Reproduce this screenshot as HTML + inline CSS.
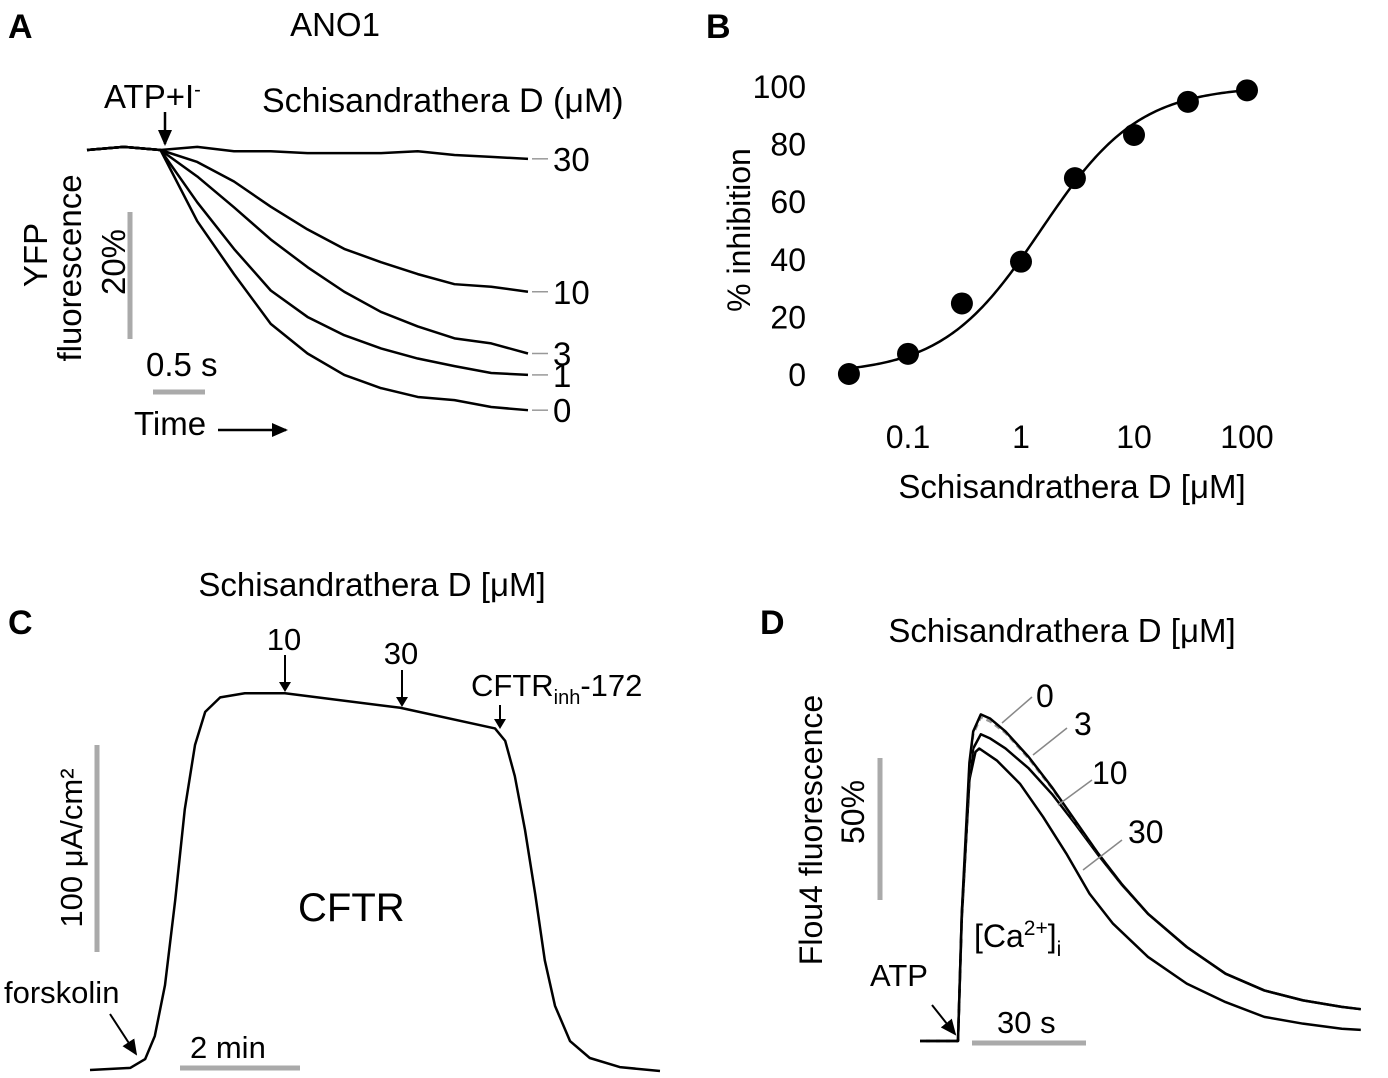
<!DOCTYPE html>
<html><head><meta charset="utf-8"><style>
body{margin:0;background:#fff}
svg{display:block;font-family:"Liberation Sans",Arial,sans-serif}
text{fill:#000}
</style></head><body>
<svg id="fig" width="1388" height="1078" viewBox="0 0 1388 1078">
<defs><marker id="ah" markerWidth="10" markerHeight="12" refX="8" refY="6" orient="auto" markerUnits="userSpaceOnUse"><path d="M0,0 L10,6 L0,12 z" fill="#000"/></marker>
<marker id="ah2" markerWidth="16" markerHeight="14" refX="14" refY="7" orient="auto" markerUnits="userSpaceOnUse"><path d="M0,0 L16,7 L0,14 z" fill="#000"/></marker></defs>

<!-- Panel A -->
<g>
<text x="8" y="38" font-size="34" font-weight="bold">A</text>
<text x="335" y="36" font-size="33" text-anchor="middle">ANO1</text>
<text x="104" y="108" font-size="33">ATP+I<tspan dy="-12" font-size="20">-</tspan></text>
<line x1="165" y1="112" x2="165" y2="144" stroke="#000" stroke-width="2.5" marker-end="url(#ah2)"/>
<text x="262" y="112" font-size="34">Schisandrathera D (μM)</text>
<text transform="translate(47,255) rotate(-90)" font-size="33" text-anchor="middle">YFP</text>
<text transform="translate(81,268) rotate(-90)" font-size="33" text-anchor="middle">fluorescence</text>
<text transform="translate(125,262) rotate(-90)" font-size="33" text-anchor="middle">20%</text>
<line x1="130" y1="212" x2="130" y2="339" stroke="#aaa" stroke-width="5"/>
<text x="146" y="376" font-size="33">0.5 s</text>
<line x1="153" y1="392" x2="205" y2="392" stroke="#aaa" stroke-width="5"/>
<text x="134" y="435" font-size="33">Time</text>
<line x1="218" y1="430" x2="286" y2="430" stroke="#000" stroke-width="2.5" marker-end="url(#ah2)"/>
<g id="gA"></g>
</g>

<!-- Panel B -->
<g>
<text x="706" y="38" font-size="34" font-weight="bold">B</text>
<text transform="translate(750,230) rotate(-90)" font-size="32" text-anchor="middle">% inhibition</text>
<text x="1072" y="498" font-size="33" text-anchor="middle">Schisandrathera D [μM]</text>
<g id="gB"></g>
</g>

<!-- Panel C -->
<g>
<text x="8" y="634" font-size="34" font-weight="bold">C</text>
<text x="372" y="596" font-size="33" text-anchor="middle">Schisandrathera D [μM]</text>
<text x="284" y="650" font-size="31" text-anchor="middle">10</text>
<line x1="285" y1="655" x2="285" y2="690" stroke="#000" stroke-width="2" marker-end="url(#ah)"/>
<text x="401" y="664" font-size="31" text-anchor="middle">30</text>
<line x1="402" y1="670" x2="402" y2="705" stroke="#000" stroke-width="2" marker-end="url(#ah)"/>
<text x="471" y="696" font-size="31">CFTR<tspan font-size="20" dy="8">inh</tspan><tspan dy="-8">-172</tspan></text>
<line x1="500" y1="705" x2="500" y2="727" stroke="#000" stroke-width="2" marker-end="url(#ah)"/>
<line x1="97" y1="745" x2="97" y2="952" stroke="#aaa" stroke-width="5"/>
<text transform="translate(82,848) rotate(-90)" font-size="31" text-anchor="middle">100 μA/cm²</text>
<text x="298" y="921" font-size="40">CFTR</text>
<text x="4" y="1003" font-size="31">forskolin</text>
<line x1="110" y1="1014" x2="136" y2="1054" stroke="#000" stroke-width="2" marker-end="url(#ah2)"/>
<text x="190" y="1058" font-size="31">2 min</text>
<line x1="180" y1="1068" x2="300" y2="1068" stroke="#aaa" stroke-width="5"/>
<g id="gC"></g>
</g>

<!-- Panel D -->
<g>
<text x="760" y="634" font-size="34" font-weight="bold">D</text>
<text x="1062" y="642" font-size="33" text-anchor="middle">Schisandrathera D [μM]</text>
<text transform="translate(822,830) rotate(-90)" font-size="32" text-anchor="middle">Flou4 fluorescence</text>
<text transform="translate(864,812) rotate(-90)" font-size="32" text-anchor="middle">50%</text>
<line x1="880" y1="758" x2="880" y2="900" stroke="#aaa" stroke-width="5"/>
<text x="974" y="947" font-size="32">[Ca<tspan dy="-12" font-size="21">2+</tspan><tspan dy="12">]</tspan><tspan dy="9" font-size="21">i</tspan></text>
<text x="870" y="986" font-size="31">ATP</text>
<line x1="932" y1="1005" x2="955" y2="1034" stroke="#000" stroke-width="2" marker-end="url(#ah2)"/>
<text x="997" y="1033" font-size="31">30 s</text>
<line x1="972" y1="1043" x2="1086" y2="1043" stroke="#aaa" stroke-width="5"/>
<g id="gD"></g>
</g>
</svg>
<script>
// ---------- Panel A data ----------
const aTime = [0,1,2,3,4,5,6,7,8,9,10,11,12];
const aDoses = ["0","1","3","10","30"];
const aDrop0  = [0,-0.5,0,11.3,19.7,27.6,32.3,35.7,37.8,39.2,39.7,40.8,41.3];
const aDrop1  = [0,-0.5,0,8.3,15.7,22.3,26.5,29.4,31.5,33.1,34.3,35.4,35.7];
const aDrop3  = [0,-0.5,0,4.2,9.1,14.2,18.6,22.5,25.7,28.0,29.9,30.7,32.3];
const aDrop10 = [0,-0.5,0,1.9,5.0,9.0,12.6,15.7,17.8,19.7,21.3,21.7,22.5];
const aDrop30 = [0,-0.5,0,-0.5,0.2,0.2,0.5,0.5,0.5,0.2,0.8,1.1,1.4];
// ---------- Panel B data ----------
const bConc = [0.03,0.1,0.3,1,3,10,30,100];
const bInhib = [0,7,24.5,39,68,83,94.5,98.5];
const bYTicks = [0,20,40,60,80,100];
const bXTicks = [0.1,1,10,100];
const bXTickLabels = ["0.1","1","10","100"];
const bIC50 = 1.5, bHill = 1.0;
// ---------- Panel C data (min, µA/cm²) ----------
const cTime = [0,0.67,0.92,1.08,1.25,1.42,1.58,1.75,1.92,2.17,2.58,3.25,5.17,6.75,6.92,7.08,7.25,7.42,7.58,7.75,8.0,8.33,8.83,9.5];
const cCurrent = [0,1,5.3,16.4,41,82,126,157,173,180,182,182,175,165,159,142,116,85,53,31,14,5.8,1.4,-0.5];
// ---------- Panel D data (s, %) ----------
const dTimeTop = [-10,0,1,3,4,6,8.5,12.5,18.6,24.7,30.8,36.9,43,50,60.2,70.4,80.6,90.8,101,106];
const dF0  = [0,0,45,98,109,115,113.5,109,100,89.4,77.7,66,55.4,44.8,33.1,23.7,17.8,14.3,12,11.2];
const dF3  = [0,0,44,97,108,114,112.5,108.5,99.5,89,77.5,66,55.4,44.8,33.1,23.7,17.8,14.3,12,11.2];
const dF10 = [0,0,43,92,103,108,106.5,103,96,87,76.5,65.5,55.2,44.8,33.1,23.7,17.8,14.3,12,11.2];
const dTime30 = [-10,0,1,3,4.6,5.6,10.2,16.3,22.4,28.5,34.6,40.8,50,60.2,70.4,80.6,90.8,101,106];
const dF30 = [0,0,45,92,101.8,103,98.8,90.6,78.9,66,51.9,41.3,29.6,20.2,13.7,8.5,6.1,4.3,3.9];
const dLabels = ["0","3","10","30"];

const NS="http://www.w3.org/2000/svg";
function mk(parent,tag,attrs){const e=document.createElementNS(NS,tag);for(const k in attrs)e.setAttribute(k,attrs[k]);parent.appendChild(e);return e;}

// Panel A
(function(){
  const g=document.getElementById('gA');
  const xA=i=>87+i*36.75, yA=v=>150+v*6.3;
  const series=[aDrop0,aDrop1,aDrop3,aDrop10,aDrop30];
  series.forEach((s,k)=>{
    const p=mk(g,'polyline',{points:s.map((v,i)=>xA(aTime[i])+','+yA(v)).join(' '),fill:'none',stroke:'#000','stroke-width':2.5,'stroke-linejoin':'round'});
    
    
    const ye=yA(s[s.length-1]);
    const t=mk(g,'line',{x1:532,y1:ye,x2:548,y2:ye,stroke:'#999','stroke-width':1.5});
    
    
    const tx=mk(g,'text',{x:553,y:ye+12,'font-size':33});
    tx.textContent=aDoses[k];
    
    
  });
})();

// Panel B
(function(){
  const g=document.getElementById('gB');
  const xB=c=>1021+113*Math.log10(c), yB=v=>374-v*2.88;
  bYTicks.forEach(v=>{
    const t=mk(g,'text',{x:806,y:yB(v)+12,'font-size':32,'text-anchor':'end'});
    t.textContent=v;
    
    
  });
  bXTicks.forEach((c,i)=>{
    const t=mk(g,'text',{x:xB(c),y:448,'font-size':32,'text-anchor':'middle'});
    t.textContent=bXTickLabels[i];
    
    
  });
  let pts=[];
  for(let l=Math.log10(0.03);l<=2.0001;l+=0.02){const c=Math.pow(10,l);const v=100/(1+Math.pow(bIC50/c,bHill));pts.push(xB(c)+','+yB(v));}
  const fit=mk(g,'polyline',{points:pts.join(' '),fill:'none',stroke:'#000','stroke-width':2.5});
  
  
  bConc.forEach((c,i)=>{
    const d=mk(g,'circle',{cx:xB(c),cy:yB(bInhib[i]),r:11,fill:'#000'});
    
    
  });
})();

// Panel C
(function(){
  const g=document.getElementById('gC');
  const xC=t=>90+t*60, yC=v=>1070-v*2.07;
  const p=mk(g,'polyline',{points:cTime.map((t,i)=>xC(t)+','+yC(cCurrent[i])).join(' '),fill:'none',stroke:'#000','stroke-width':2.5,'stroke-linejoin':'round'});
  
  
})();

// Panel D
(function(){
  const g=document.getElementById('gD');
  const xD=t=>958+t*3.8, yD=v=>1041-v*2.84;
  const path=(ts,fs)=>ts.map((t,i)=>xD(t)+','+yD(fs[i])).join(' ');
  const defs=[[dTime30,dF30,'#000','','30'],[dTimeTop,dF10,'#000','','10'],[dTimeTop,dF3,'#999','6,4','3'],[dTimeTop,dF0,'#000','','0']];
  defs.forEach(d=>{
    const a={points:path(d[0],d[1]),fill:'none',stroke:d[2],'stroke-width':2.5,'stroke-linejoin':'round'};
    if(d[3])a['stroke-dasharray']=d[3];
    const p=mk(g,'polyline',a);
    
    
  });
  const leaders=[[1002,723,1032,697,1036,707],[1033,755,1067,728,1074,735],[1058,805,1092,780,1092,784],[1083,870,1122,840,1128,843]];
  leaders.forEach((L,k)=>{
    const l=mk(g,'line',{x1:L[0],y1:L[1],x2:L[2],y2:L[3],stroke:'#888','stroke-width':1.5});
    
    
    const t=mk(g,'text',{x:L[4],y:L[5],'font-size':32});
    t.textContent=dLabels[k];
    
    
  });
})();
</script>
</body></html>
